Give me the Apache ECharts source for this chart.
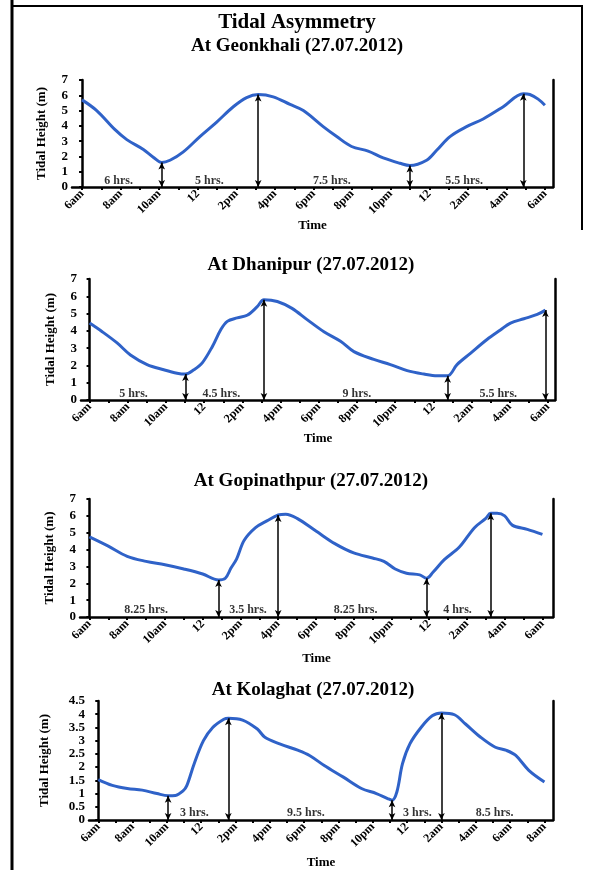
<!DOCTYPE html>
<html>
<head>
<meta charset="utf-8">
<script src="https://cdn.jsdelivr.net/npm/echarts@6/dist/echarts.min.js"></script>
<style>
  html, body { margin: 0; padding: 0; background: #fff; }
  #chart { width: 589px; height: 870px; }
</style>
</head>
<body>
<div id="chart"></div>
<script>
// Clock labels for the time axis (hours counted from 6am on 27.07.2012)
const clockLabels24 = ['6am','8am','10am','12','2pm','4pm','6pm','8pm','10pm','12','2am','4am','6am'];
const clockLabels26 = ['6am','8am','10am','12','2pm','4pm','6pm','8pm','10pm','12','2am','4am','6am','8am'];

// Geonkhali
const geonkhaliHours  = [0, 0.76, 1.71, 2.32, 3.18, 3.69, 4.13, 4.56, 5.25, 6.11, 6.98, 7.84, 8.53, 9.13, 9.91, 10.78, 11.47, 12.5, 13.2, 13.97, 14.83, 15.61, 16.48, 16.99, 17.86, 18.38, 19.07, 19.93, 20.79, 21.83, 22.87, 23.21, 23.64, 23.99];
const geonkhaliHeight = [5.7, 5.0, 3.75, 3.1, 2.45, 1.95, 1.6, 1.75, 2.3, 3.3, 4.25, 5.25, 5.85, 6.05, 5.9, 5.4, 5.0, 3.95, 3.3, 2.65, 2.35, 1.9, 1.55, 1.4, 1.75, 2.4, 3.3, 3.95, 4.45, 5.25, 6.1, 6.05, 5.75, 5.35];
const geonkhaliTurnHours  = [4.13, 9.13, 16.99, 22.87];
const geonkhaliTurnHeight = [1.6, 6.05, 1.4, 6.1];
const geonkhaliSpans     = ['6 hrs.', '5 hrs.', '7.5 hrs.', '5.5 hrs.'];
const geonkhaliSpanHours = [1.9, 6.6, 12.95, 19.8];

// Dhanipur
const dhanipurHours  = [0, 0.66, 1.44, 2.14, 3.01, 3.88, 4.58, 5.02, 5.46, 5.9, 6.43, 6.86, 7.21, 7.73, 8.25, 8.78, 9.13, 9.83, 10.6, 11.39, 12.27, 13.14, 13.84, 14.88, 15.75, 16.63, 17.5, 18.2, 18.75, 19.24, 19.94, 20.81, 21.51, 22.04, 22.74, 23.44, 23.87];
const dhanipurHeight = [4.45, 3.95, 3.3, 2.6, 2.05, 1.75, 1.55, 1.5, 1.75, 2.15, 3.1, 4.05, 4.55, 4.75, 4.9, 5.4, 5.8, 5.7, 5.3, 4.65, 3.95, 3.4, 2.8, 2.35, 2.05, 1.7, 1.5, 1.4, 1.4, 2.05, 2.7, 3.5, 4.05, 4.45, 4.7, 4.95, 5.2];
const dhanipurTurnHours  = [5.02, 9.13, 18.75, 23.87];
const dhanipurTurnHeight = [1.5, 5.8, 1.4, 5.2];
const dhanipurSpans     = ['5 hrs.', '4.5 hrs.', '9 hrs.', '5.5 hrs.'];
const dhanipurSpanHours = [2.3, 6.9, 14.0, 21.4];

// Gopinathpur
const gopinathpurHours  = [0, 1, 2, 3, 4, 5, 6, 6.84, 7.2, 7.5, 7.8, 8.2, 8.8, 9.4, 10.0, 10.4, 11.0, 12.0, 13.0, 14.0, 15.0, 15.6, 16.2, 16.8, 17.5, 17.86, 18.2, 18.8, 19.6, 20.4, 21.0, 21.26, 21.6, 22.0, 22.4, 23.2, 24.0];
const gopinathpurHeight = [4.75, 4.2, 3.6, 3.3, 3.1, 2.85, 2.55, 2.2, 2.3, 2.9, 3.45, 4.55, 5.3, 5.7, 6.05, 6.1, 5.85, 5.1, 4.35, 3.8, 3.5, 3.3, 2.85, 2.6, 2.5, 2.3, 2.65, 3.4, 4.15, 5.3, 5.85, 6.15, 6.15, 6.0, 5.45, 5.2, 4.9];
const gopinathpurTurnHours  = [6.84, 10.0, 17.86, 21.26];
const gopinathpurTurnHeight = [2.2, 6.05, 2.3, 6.15];
const gopinathpurSpans     = ['8.25 hrs.', '3.5 hrs.', '8.25 hrs.', '4 hrs.'];
const gopinathpurSpanHours = [3.0, 8.4, 14.1, 19.5];

// Kolaghat
const kolaghatHours  = [0, 0.82, 1.69, 2.56, 3.42, 4.07, 4.5, 4.94, 5.16, 5.59, 6.13, 6.67, 7.32, 7.58, 8.41, 9.27, 9.71, 10.57, 11.66, 12.31, 13.17, 14.26, 15.34, 16.21, 16.86, 17.12, 17.4, 17.73, 18.16, 18.81, 19.46, 20.0, 20.76, 21.4, 22.28, 23.14, 23.79, 24.33, 25.09, 26.0];
const kolaghatHeight = [1.53, 1.31, 1.19, 1.13, 1.0, 0.92, 0.93, 1.1, 1.3, 2.13, 3.0, 3.5, 3.81, 3.85, 3.78, 3.44, 3.13, 2.88, 2.63, 2.44, 2.06, 1.63, 1.19, 1.0, 0.81, 0.75, 1.06, 2.13, 2.88, 3.5, 3.94, 4.05, 3.98, 3.63, 3.13, 2.75, 2.63, 2.44, 1.88, 1.44];
const kolaghatTurnHours  = [4.07, 7.58, 17.12, 20.0];
const kolaghatTurnHeight = [0.92, 3.85, 0.75, 4.05];
const kolaghatSpans     = ['3 hrs.', '9.5 hrs.', '3 hrs.', '8.5 hrs.'];
const kolaghatSpanHours = [5.6, 12.1, 18.6, 23.1];

const FONT = '"Liberation Serif", "Times New Roman", serif';
const LINE_BLUE = '#2f62c8';

const panels = [
  { title: 'At Geonkhali (27.07.2012)', titleX: 297, titleY: 46, timeGap: 31,
    grid: { left: 72, top: 80, width: 481, height: 107 },
    xMin: -0.52, xMax: 24.41, labels: clockLabels24, yMax: 7, yStep: 1, spanY: 0.42,
    hours: geonkhaliHours, height: geonkhaliHeight,
    turnHours: geonkhaliTurnHours, turnHeight: geonkhaliTurnHeight,
    spans: geonkhaliSpans, spanHours: geonkhaliSpanHours },
  { title: 'At Dhanipur (27.07.2012)', titleX: 311, titleY: 265, timeGap: 32,
    grid: { left: 81, top: 279, width: 474, height: 121 },
    xMin: -0.45, xMax: 24.37, labels: clockLabels24, yMax: 7, yStep: 1, spanY: 0.38,
    hours: dhanipurHours, height: dhanipurHeight,
    turnHours: dhanipurTurnHours, turnHeight: dhanipurTurnHeight,
    spans: dhanipurSpans, spanHours: dhanipurSpanHours },
  { title: 'At Gopinathpur (27.07.2012)', titleX: 311, titleY: 481, timeGap: 35,
    grid: { left: 80, top: 499, width: 473, height: 118 },
    xMin: -0.5, xMax: 24.56, labels: clockLabels24, yMax: 7, yStep: 1, spanY: 0.42,
    hours: gopinathpurHours, height: gopinathpurHeight,
    turnHours: gopinathpurTurnHours, turnHeight: gopinathpurTurnHeight,
    spans: gopinathpurSpans, spanHours: gopinathpurSpanHours },
  { title: 'At Kolaghat (27.07.2012)', titleX: 313, titleY: 690, timeGap: 36,
    grid: { left: 89, top: 701, width: 464, height: 119 },
    xMin: -0.54, xMax: 26.5, labels: clockLabels26, yMax: 4.5, yStep: 0.5, spanY: 0.26,
    hours: kolaghatHours, height: kolaghatHeight,
    turnHours: kolaghatTurnHours, turnHeight: kolaghatTurnHeight,
    spans: kolaghatSpans, spanHours: kolaghatSpanHours }
];

const boldText = (size) => ({ fontFamily: FONT, fontWeight: 'bold', fontSize: size, color: '#000' });

const option = {
  backgroundColor: '#fff',
  animation: false,
  grid: [], xAxis: [], yAxis: [], series: [],
  graphic: []
};

option.graphic.push({
  type: 'text', x: 297, y: 23,
  style: { text: 'Tidal Asymmetry', font: 'bold 21px ' + FONT, fill: '#000', textAlign: 'center', textVerticalAlign: 'middle' }
});

panels.forEach((p, i) => {
  option.grid.push(Object.assign({ containLabel: false }, p.grid));

  const evenHours = p.labels.map((_, k) => k * 2);
  const allHours = [];
  for (let h = 0; h <= evenHours[evenHours.length - 1]; h++) allHours.push(h);

  option.xAxis.push({
    type: 'value', gridIndex: i, min: p.xMin, max: p.xMax,
    name: 'Time', nameLocation: 'middle', nameGap: p.timeGap,
    nameTextStyle: boldText(13),
    axisLine: { show: true, onZero: false, lineStyle: { color: '#000', width: 2.5 } },
    axisTick: { show: true, length: 3, customValues: allHours, lineStyle: { color: '#000', width: 2 } },
    axisLabel: {
      show: true, rotate: 45, margin: 5, customValues: evenHours,
      formatter: (v) => p.labels[Math.round(v / 2)],
      fontFamily: FONT, fontWeight: 'bold', fontSize: 12, color: '#000'
    },
    splitLine: { show: false }
  });

  option.yAxis.push({
    type: 'value', gridIndex: i, min: 0, max: p.yMax, interval: p.yStep,
    name: 'Tidal Height (m)', nameLocation: 'middle',
    nameGap: i === 3 ? 38 : 24,
    nameTextStyle: boldText(13),
    axisLine: { show: true, lineStyle: { color: '#000', width: 2.5 } },
    axisTick: { show: true, length: 3, lineStyle: { color: '#000', width: 2 } },
    axisLabel: { margin: 4, fontFamily: FONT, fontWeight: 'bold', fontSize: 13, color: '#000' },
    splitLine: { show: false }
  });
  option.yAxis.push({
    type: 'value', gridIndex: i, position: 'right', min: 0, max: p.yMax,
    axisLine: { show: true, lineStyle: { color: '#000', width: 2.5 } },
    axisTick: { show: false }, axisLabel: { show: false }, splitLine: { show: false }
  });

  option.series.push({
    type: 'line', xAxisIndex: i, yAxisIndex: i * 2,
    data: p.hours.map((h, k) => [h, p.height[k]]),
    smooth: 0.35, showSymbol: false, symbol: 'none',
    lineStyle: { color: LINE_BLUE, width: 3 },
    markLine: {
      silent: true, animation: false,
      symbol: ['arrow', 'arrow'], symbolSize: [5, 7],
      label: { show: false },
      lineStyle: { color: '#000', width: 1.5, type: 'solid' },
      data: p.turnHours.map((h, k) => [{ coord: [h, 0] }, { coord: [h, p.turnHeight[k]] }])
    }
  });

  option.series.push({
    type: 'scatter', xAxisIndex: i, yAxisIndex: i * 2,
    symbolSize: 0, silent: true,
    data: p.spans.map((t, k) => ({ name: t, value: [p.spanHours[k], p.spanY] })),
    label: { show: true, position: 'inside', formatter: '{b}', fontFamily: FONT, fontWeight: 'bold', fontSize: 12, color: '#000' }
  });

  option.graphic.push({
    type: 'text', x: p.titleX, y: p.titleY,
    style: { text: p.title, font: 'bold 19px ' + FONT, fill: '#000', textAlign: 'center', textVerticalAlign: 'middle' }
  });
});

// page frame
option.graphic.push(
  { type: 'line', shape: { x1: 12, y1: 0, x2: 12, y2: 870 }, style: { stroke: '#000', lineWidth: 3 } },
  { type: 'line', shape: { x1: 11, y1: 6, x2: 583, y2: 6 }, style: { stroke: '#000', lineWidth: 2 } },
  { type: 'line', shape: { x1: 582, y1: 5, x2: 582, y2: 230 }, style: { stroke: '#000', lineWidth: 2 } }
);

const chart = echarts.init(document.getElementById('chart'), null, { renderer: 'canvas' });
chart.setOption(option);
</script>
</body>
</html>
